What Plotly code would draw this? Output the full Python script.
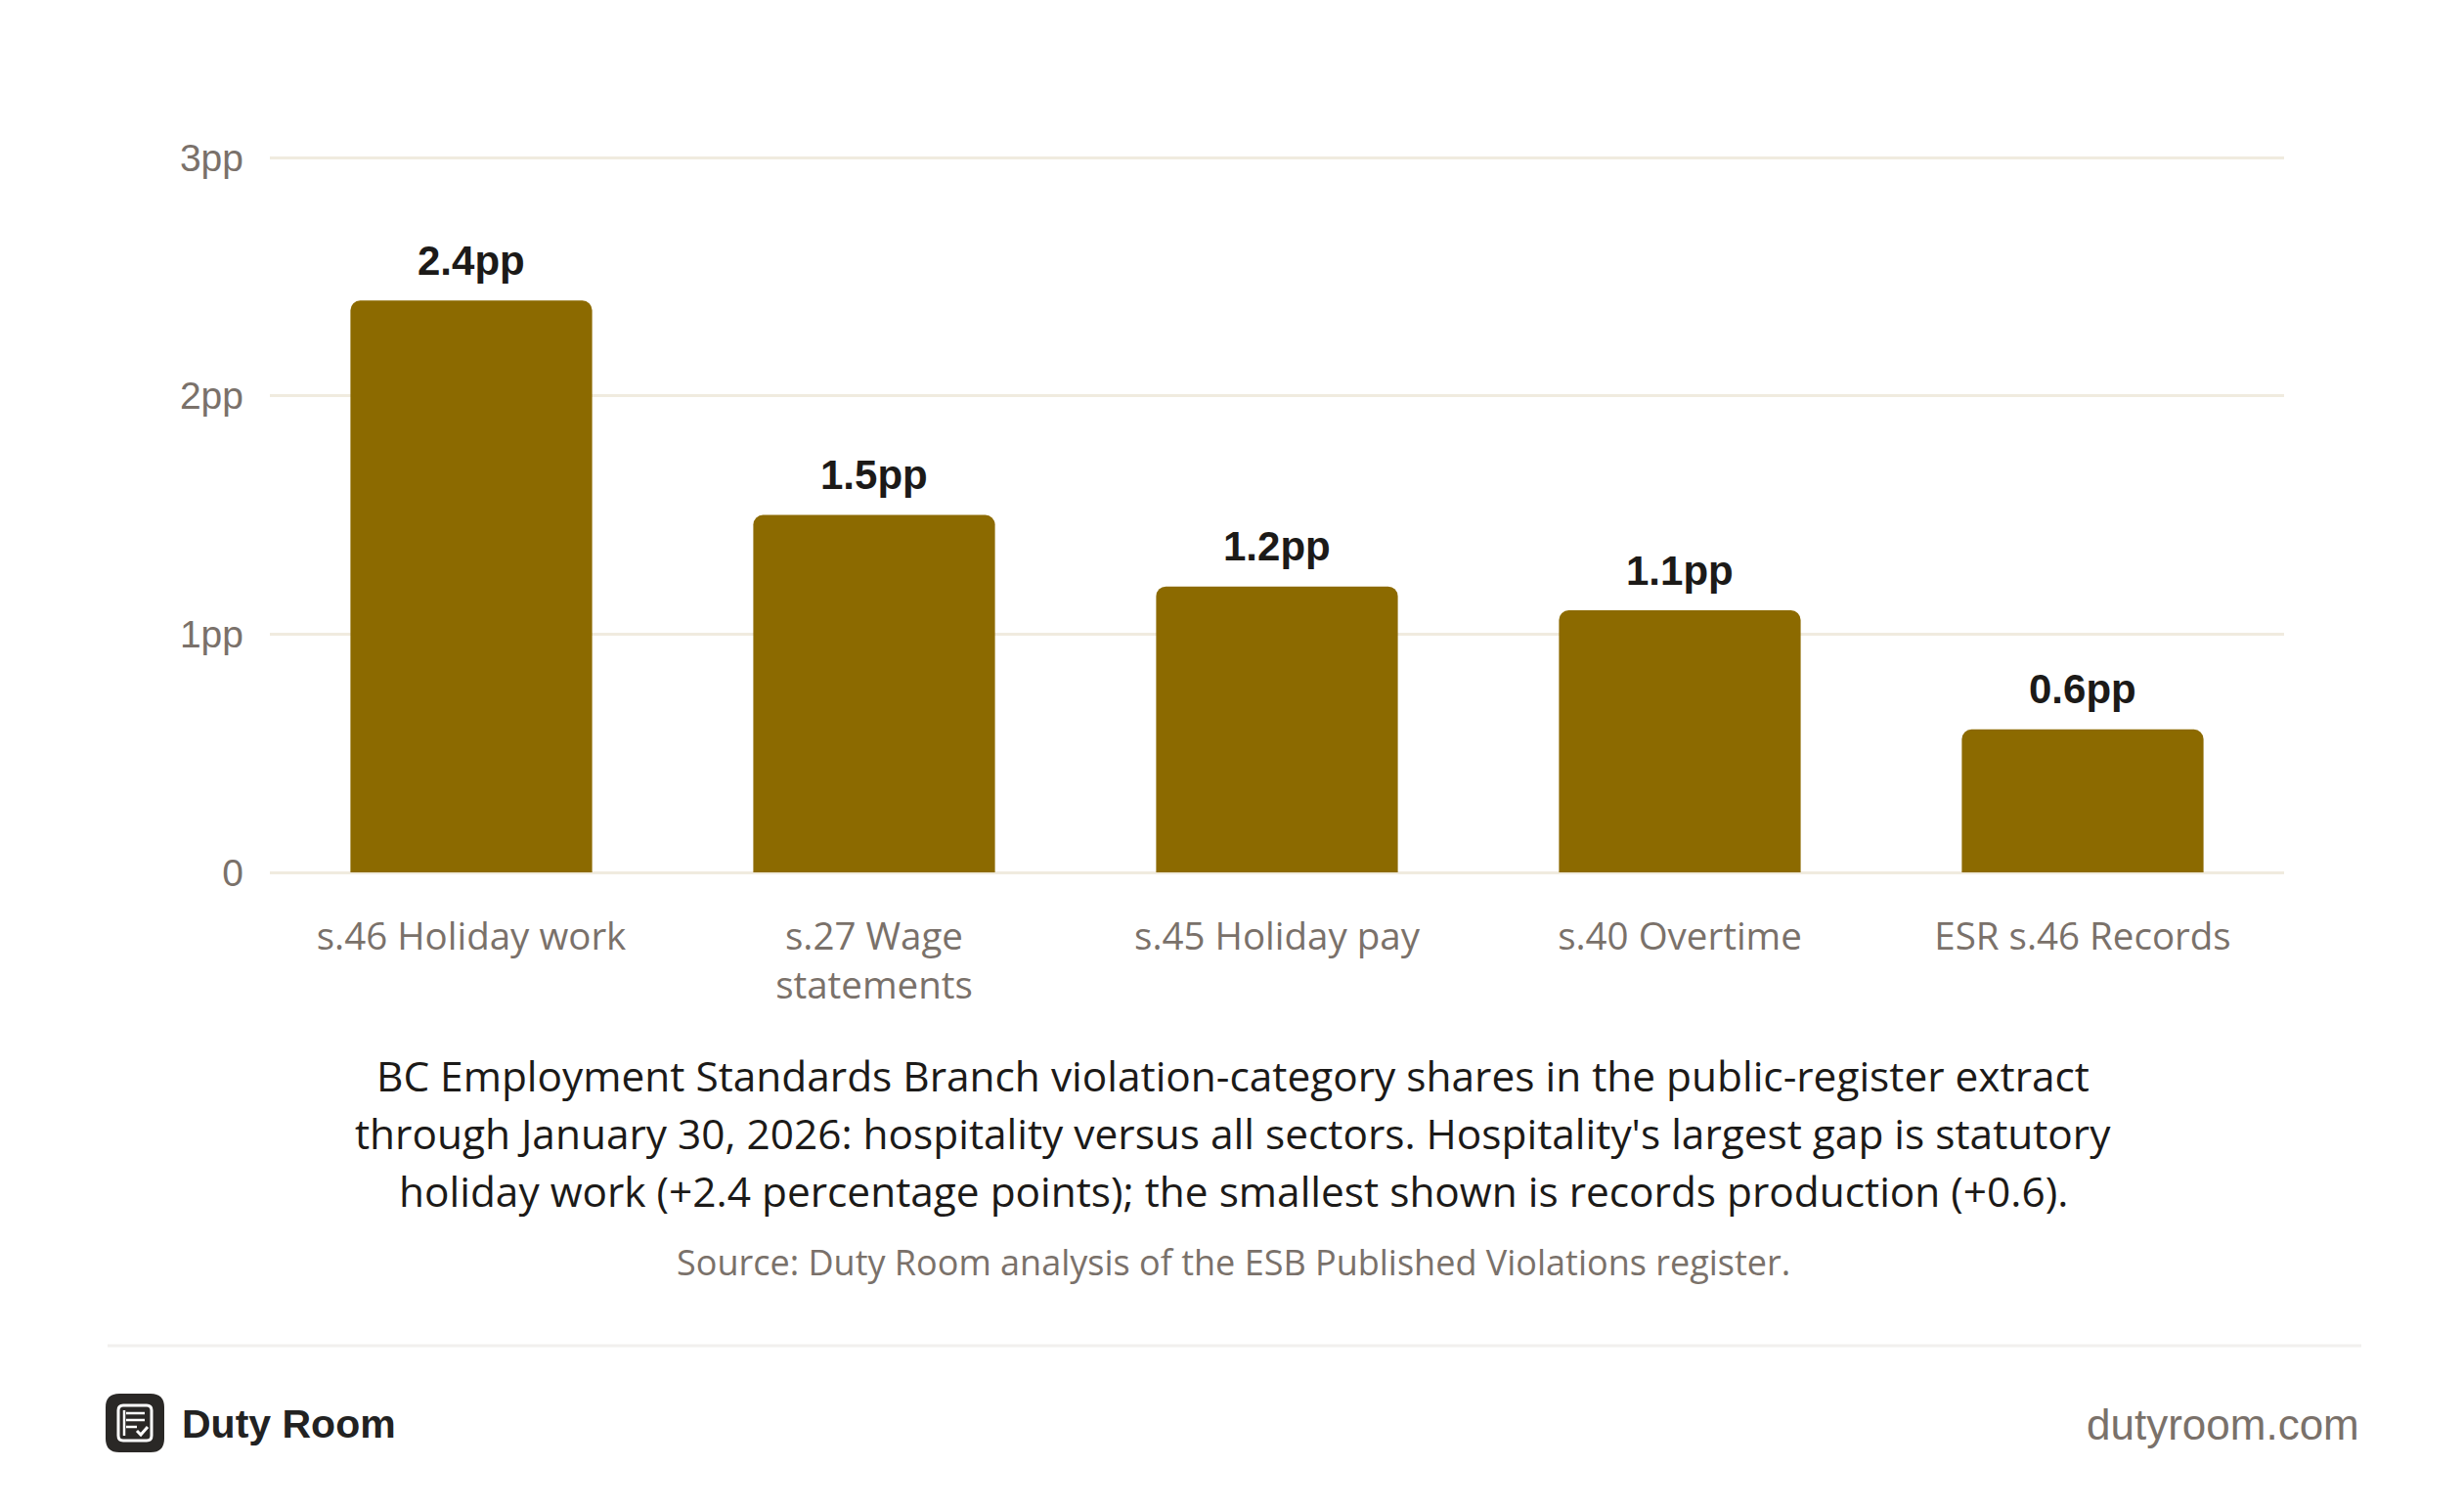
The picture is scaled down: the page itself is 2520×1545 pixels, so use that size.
import plotly.graph_objects as go

categories = ["s.46 Holiday work", "s.27 Wage<br>statements", "s.45 Holiday pay", "s.40 Overtime", "ESR s.46 Records"]
gap_pp = [2.4, 1.5, 1.2, 1.1, 0.6]
value_labels = ["2.4pp", "1.5pp", "1.2pp", "1.1pp", "0.6pp"]
y_tickvals = [0, 1, 2, 3]
y_ticktext = ["0", "1pp", "2pp", "3pp"]

caption_lines = [
    "BC Employment Standards Branch violation-category shares in the public-register extract",
    "through January 30, 2026: hospitality versus all sectors. Hospitality's largest gap is statutory",
    "holiday work (+2.4 percentage points); the smallest shown is records production (+0.6).",
]
source = "Source: Duty Room analysis of the ESB Published Violations register."

W, H = 2520, 1545
L, R, T, B = 268, 2328, 152, 884
YTOP = 3.005
PW, PH = R - L, B - T

def px(x):
    return (x - L) / PW

def py(y):
    return (B - y) / PH

BAR = "#8C6A00"
GRID = "#F0EBDF"
GRAY = "#7A716A"
DARK = "#1C1A18"
SANS = "Liberation Sans, Arial, Helvetica, sans-serif"
BODY = "Open Sans, Liberation Sans, sans-serif"

fig = go.Figure(go.Bar(
    x=categories, y=gap_pp, width=0.6,
    marker=dict(color=BAR, line=dict(width=0)),
    hoverinfo="skip",
))

fig.update_layout(
    width=W, height=H,
    margin=dict(l=L, r=W - R, t=T, b=H - B, pad=0),
    paper_bgcolor="white", plot_bgcolor="white",
    showlegend=False, barcornerradius=10,
    xaxis=dict(range=[-0.5, 4.5], showgrid=False, zeroline=False, showline=False,
               ticks="", ticklabelstandoff=39,
               tickfont=dict(family=BODY, size=38.5, color=GRAY)),
    yaxis=dict(range=[0, YTOP], tickvals=y_tickvals, ticktext=y_ticktext,
               showgrid=True, gridcolor=GRID, gridwidth=3,
               zeroline=True, zerolinecolor=GRID, zerolinewidth=3,
               showline=False, ticks="", ticklabelstandoff=26,
               tickfont=dict(family=SANS, size=39, color=GRAY)),
)

annotations = []
for cat, val, lab in zip(categories, gap_pp, value_labels):
    annotations.append(dict(text=f"<b>{lab}</b>", x=cat, y=val, xref="x", yref="y",
                            xanchor="center", yanchor="middle", yshift=41, showarrow=False,
                            font=dict(family=SANS, size=42, color=DARK)))
for line, yy in zip(caption_lines, [1091, 1150, 1209]):
    annotations.append(dict(text=line, xref="paper", yref="paper", x=px(1253), y=py(yy),
                            xanchor="center", yanchor="middle", showarrow=False,
                            font=dict(family=BODY, size=42.4, color=DARK)))
annotations.append(dict(text=source, xref="paper", yref="paper", x=px(1253), y=py(1282),
                        xanchor="center", yanchor="middle", showarrow=False,
                        font=dict(family=BODY, size=36, color=GRAY)))
annotations.append(dict(text="<b>Duty Room</b>", xref="paper", yref="paper", x=px(176), y=py(1448),
                        xanchor="left", yanchor="middle", showarrow=False,
                        font=dict(family=SANS, size=41, color="#222222")))
annotations.append(dict(text="dutyroom.com", xref="paper", yref="paper", x=px(2407), y=py(1448),
                        xanchor="right", yanchor="middle", showarrow=False,
                        font=dict(family=SANS, size=44, color=GRAY)))
fig.update_layout(annotations=annotations)

shapes = []
shapes.append(dict(type="line", xref="paper", yref="paper", x0=px(102), x1=px(2407), y0=py(1368), y1=py(1368),
                   line=dict(color="#F2F0EE", width=3)))

def rrect(x0, y0, x1, y1, r):
    return (f"M {px(x0+r)},{py(y0)} L {px(x1-r)},{py(y0)} Q {px(x1)},{py(y0)} {px(x1)},{py(y0+r)} "
            f"L {px(x1)},{py(y1-r)} Q {px(x1)},{py(y1)} {px(x1-r)},{py(y1)} "
            f"L {px(x0+r)},{py(y1)} Q {px(x0)},{py(y1)} {px(x0)},{py(y1-r)} "
            f"L {px(x0)},{py(y0+r)} Q {px(x0)},{py(y0)} {px(x0+r)},{py(y0)} Z")

LX, LY = 100, 1417
shapes.append(dict(type="path", xref="paper", yref="paper", path=rrect(LX, LY, LX + 60, LY + 60, 14),
                   fillcolor="#2A2826", line=dict(width=0)))
shapes.append(dict(type="path", xref="paper", yref="paper", path=rrect(LX + 13, LY + 12, LX + 47, LY + 48, 5),
                   fillcolor="rgba(0,0,0,0)", line=dict(color="white", width=3)))
for dy, x1 in [(20, 40), (27, 40), (34, 32)]:
    shapes.append(dict(type="line", xref="paper", yref="paper", x0=px(LX + 21), x1=px(LX + x1),
                       y0=py(LY + dy), y1=py(LY + dy), line=dict(color="white", width=2.5)))
shapes.append(dict(type="line", xref="paper", yref="paper", x0=px(LX + 19), x1=px(LX + 19),
                   y0=py(LY + 17), y1=py(LY + 43), line=dict(color="white", width=2.5)))
shapes.append(dict(type="path", xref="paper", yref="paper",
                   path=f"M {px(LX + 32)},{py(LY + 38)} L {px(LX + 36)},{py(LY + 42)} L {px(LX + 43)},{py(LY + 34)}",
                   line=dict(color="white", width=3)))
fig.update_layout(shapes=shapes)

fig.write_html("out.html")
